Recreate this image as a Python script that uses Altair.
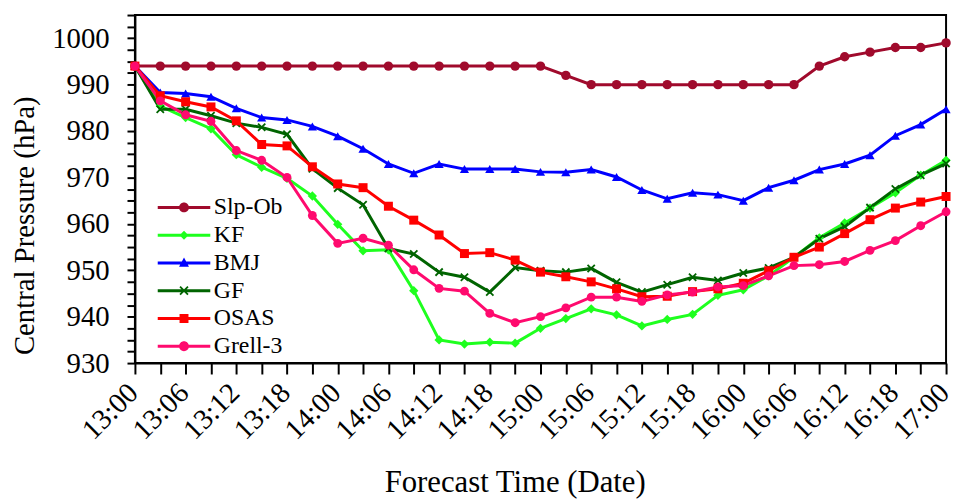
import altair as alt
import pandas as pd

times = ["13:00", "13:03", "13:06", "13:09", "13:12", "13:15", "13:18", "13:21",
         "14:00", "14:03", "14:06", "14:09", "14:12", "14:15", "14:18", "14:21",
         "15:00", "15:03", "15:06", "15:09", "15:12", "15:15", "15:18", "15:21",
         "16:00", "16:03", "16:06", "16:09", "16:12", "16:15", "16:18", "16:21",
         "17:00"]

series = ["Slp-Ob", "KF", "BMJ", "GF", "OSAS", "Grell-3"]
colors = ["#A00A2C", "#1EFF1E", "#0000FF", "#006400", "#FF0000", "#FF0A6E"]

slp_ob = [994, 994, 994, 994, 994, 994, 994, 994, 994, 994, 994, 994, 994, 994, 994, 994,
          994, 992, 990, 990, 990, 990, 990, 990, 990, 990, 990, 994, 996, 997, 998, 998, 999]
kf = [994, 985.4, 982.9, 980.5, 974.9, 972.2, 969.8, 966.0, 959.9, 954.2, 954.4, 945.6,
      935.0, 934.1, 934.5, 934.3, 937.5, 939.6, 941.7, 940.4, 938.0, 939.4, 940.5, 944.6,
      945.8, 948.8, 952.8, 957.0, 960.2, 963.4, 966.7, 970.5, 973.7]
bmj = [994, 988.3, 988.1, 987.4, 984.9, 982.9, 982.4, 981.0, 978.9, 976.2, 972.9, 970.9,
       972.9, 971.8, 971.8, 971.8, 971.2, 971.1, 971.7, 970.1, 967.3, 965.4, 966.7, 966.3,
       965.0, 967.8, 969.4, 971.7, 972.9, 974.8, 979.0, 981.4, 984.7]
gf = [994, 984.7, 984.7, 983.3, 981.7, 980.8, 979.3, 971.9, 967.7, 964.1, 954.7, 953.5,
      949.6, 948.5, 945.3, 950.6, 949.9, 949.6, 950.4, 947.4, 945.3, 946.9, 948.5, 947.8,
      949.4, 950.5, 952.8, 956.8, 959.4, 963.5, 967.5, 970.5, 973.0]
osas = [994, 987.6, 986.3, 985.2, 982.2, 977.1, 976.8, 972.3, 968.6, 967.8, 963.8, 960.8,
        957.6, 953.6, 953.8, 952.2, 949.6, 948.6, 947.5, 946.0, 944.3, 944.4, 945.4, 946.0,
        947.2, 949.9, 952.8, 955.0, 957.9, 960.9, 963.4, 964.7, 965.9]
grell3 = [994, 986.5, 983.5, 982.1, 975.8, 973.7, 970.0, 961.8, 955.8, 956.9, 955.4, 950.1,
          946.1, 945.5, 940.7, 938.7, 940.0, 941.9, 944.2, 944.2, 943.3, 944.7, 945.3, 946.4,
          946.7, 948.8, 951.0, 951.2, 951.9, 954.3, 956.4, 959.6, 962.6]

y_ticks = [930 + 2.5 * i for i in range(31)]

all_values = [slp_ob, kf, bmj, gf, osas, grell3]
rows = []
for name, vals in zip(series, all_values):
    for t, v in zip(times, vals):
        rows.append({"time": t, "pressure": v, "series": name})
df = pd.DataFrame(rows)

FONT = "Liberation Serif"


def poly(pts):
    return "M" + "L".join(f"{x:.3f},{y:.3f}" for x, y in pts) + "Z"


def xpath(a, t):
    d = t * 0.70710678
    p = [(-a + d, -a - d), (a + d, a - d), (a - d, a + d), (-a - d, -a + d)]
    q = [(-a + d, a + d), (-a - d, a - d), (a - d, -a - d), (a + d, -a + d)]
    return poly(p) + poly(q)


def circ(r):
    return f"M{-r},0A{r},{r},0,1,1,{r},0A{r},{r},0,1,1,{-r},0Z"


# legend symbols: unit = 10 px (symbolSize 400)
seg = poly([(-2.65, -0.15), (2.65, -0.15), (2.65, 0.15), (-2.65, 0.15)])
legend_shapes = [
    seg + circ(0.5),
    seg + poly([(0, -0.45), (0.45, 0), (0, 0.45), (-0.45, 0)]),
    seg + poly([(0, -0.55), (0.5, 0.38), (-0.5, 0.38)]),
    seg + xpath(0.4, 0.09),
    seg + poly([(-0.45, -0.45), (0.45, -0.45), (0.45, 0.45), (-0.45, 0.45)]),
    seg + circ(0.5),
]
plot_shapes = ["circle", "diamond", "triangle-up", xpath(0.8, 0.2), "square", "circle"]
plot_sizes = [90, 80, 110, 90, 95, 90]

color_scale = alt.Scale(domain=series, range=colors)

x_enc = alt.X(
    "time:N",
    sort=times,
    scale=alt.Scale(type="point", padding=0, domain=times),
    axis=alt.Axis(
        title="Forecast Time (Date)",
        labelExpr="indexof(['03','09','15','21'], substring(datum.value, 3, 5)) < 0 ? datum.value : ''",
        labelAngle=-45, labelAlign="right", labelBaseline="middle",
        labelFont=FONT, labelFontSize=29, labelColor="black", labelPadding=14,
        labelOffset=-2,
        tickSize=11, tickWidth=2, tickColor="black",
        domainColor="black", domainWidth=2,
        titleFont=FONT, titleFontSize=31, titleFontWeight="normal", titleColor="black",
        titleX=383, titleY=130, titleAlign="center", titleBaseline="alphabetic",
        labelOverlap=False, grid=False,
    ),
)
y_enc = alt.Y(
    "pressure:Q",
    scale=alt.Scale(domain=[930, 1005], nice=False, zero=False),
    axis=alt.Axis(
        title="Central Pressure (hPa)",
        values=y_ticks,
        labelExpr="datum.value % 10 == 0 ? datum.value : ''",
        labelFont=FONT, labelFontSize=29, labelColor="black", labelPadding=18,
        tickSize=8, tickWidth=2, tickColor="black",
        domainColor="black", domainWidth=2,
        titleFont=FONT, titleFontSize=29, titleFontWeight="normal", titleColor="black",
        titleX=-111, titleY=212, titleAlign="center", titleBaseline="middle",
        labelOverlap=False, grid=False,
    ),
)

base = alt.Chart(df)

lines = base.mark_line(strokeWidth=3).encode(
    x=x_enc, y=y_enc,
    color=alt.Color("series:N", scale=color_scale, legend=None),
)

points = base.mark_point(filled=True, opacity=1, strokeWidth=0).encode(
    x=x_enc, y=y_enc,
    color=alt.Color("series:N", scale=color_scale, legend=None),
    shape=alt.Shape("series:N", scale=alt.Scale(domain=series, range=plot_shapes), legend=None),
    size=alt.Size("series:N", scale=alt.Scale(domain=series, range=plot_sizes), legend=None),
)

leg = alt.Legend(
    title=None, orient="none", legendX=21, legendY=182,
    symbolSize=400, symbolOpacity=1, symbolStrokeWidth=0, symbolOffset=16.5,
    labelFont=FONT, labelFontSize=24, labelColor="black", labelOffset=18,
    labelLimit=0, rowPadding=4, padding=0,
)

legend_layer = base.mark_point(filled=True, opacity=0).encode(
    x=x_enc, y=y_enc,
    color=alt.Color("series:N", scale=color_scale, legend=leg),
    shape=alt.Shape("series:N", scale=alt.Scale(domain=series, range=legend_shapes), legend=leg),
)

chart = alt.layer(lines, points, legend_layer).resolve_scale(
    shape="independent"
).resolve_legend(
    color="independent", shape="independent"
).properties(
    width=818, height=351,
    autosize=alt.AutoSizeParams(type="none"),
    padding={"left": 128, "top": 5, "right": 7, "bottom": 138},
    background="white",
).configure_view(stroke="black", strokeWidth=2)

chart.save("out.html", embed_options={"renderer": "svg", "actions": False})
